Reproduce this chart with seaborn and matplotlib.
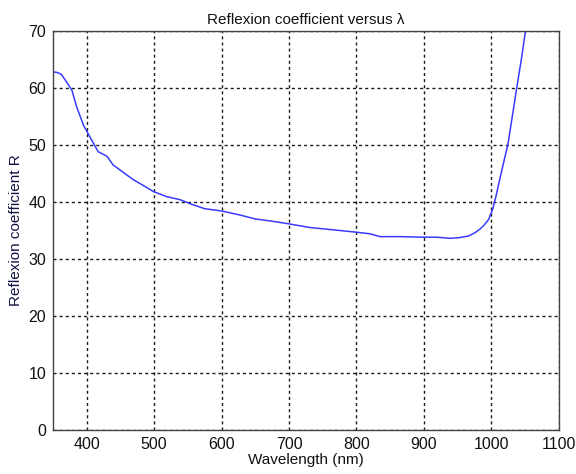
import matplotlib
matplotlib.use("Agg")
import matplotlib.pyplot as plt
import seaborn as sns
import pandas as pd

# Wavelength (nm) and reflexion coefficient R (%)
wavelength = [350, 356, 362, 368, 378, 385, 395, 407, 417, 430, 439, 455, 469, 485,
              499, 519, 538, 555, 575, 600, 627, 650, 675, 697, 731, 765, 798, 820,
              835, 865, 899, 919, 939, 951, 966, 976, 983, 990, 996, 1002, 1007, 1013,
              1025, 1038, 1045, 1051, 1055]
reflexion = [62.8, 62.7, 62.4, 61.4, 59.6, 56.7, 53.5, 50.9, 48.8, 48.0, 46.5, 45.1,
             43.9, 42.8, 41.8, 40.9, 40.4, 39.6, 38.8, 38.4, 37.7, 37.0, 36.6, 36.2,
             35.5, 35.1, 34.7, 34.4, 33.9, 33.9, 33.8, 33.8, 33.6, 33.7, 34.0, 34.6,
             35.2, 36.0, 36.9, 38.7, 41.0, 44.2, 50.3, 60.2, 65.3, 70.2, 73.0]

x_ticks = [400, 500, 600, 700, 800, 900, 1000, 1100]
y_ticks = [0, 10, 20, 30, 40, 50, 60, 70]

df = pd.DataFrame({"wavelength": wavelength, "R": reflexion})

sns.set_style("white")
plt.rcParams["font.family"] = ["Liberation Sans", "DejaVu Sans"]

fig = plt.figure(figsize=(5.76, 4.74), dpi=100)
ax = fig.add_axes([0.092, 0.093, 0.878, 0.842])

sns.lineplot(data=df, x="wavelength", y="R", ax=ax, color="#3a3aff",
             linewidth=1.1, sort=False)

ax.set_xlim(350, 1100)
ax.set_ylim(0, 70)
ax.set_xticks(x_ticks)
ax.set_yticks(y_ticks)
ax.grid(True, color="#1a1a1a", linestyle=(0, (2.2, 2.2)), linewidth=1.0)
ax.tick_params(direction="in", length=4, labelsize=11.5, colors="#333333",
               labelcolor="#111111", top=False, right=False, pad=5)
for s in ax.spines.values():
    s.set_color("#444444")
    s.set_linewidth(1.0)

ax.set_title("Reflexion coefficient versus λ", fontsize=11, color="#111111", pad=5)
ax.set_xlabel("Wavelength (nm)", fontsize=11, color="#111111", labelpad=1)
ax.set_ylabel("Reflexion coefficient R", fontsize=11, color="#111144", labelpad=4)

fig.savefig("out.png", dpi=100, facecolor="white")
